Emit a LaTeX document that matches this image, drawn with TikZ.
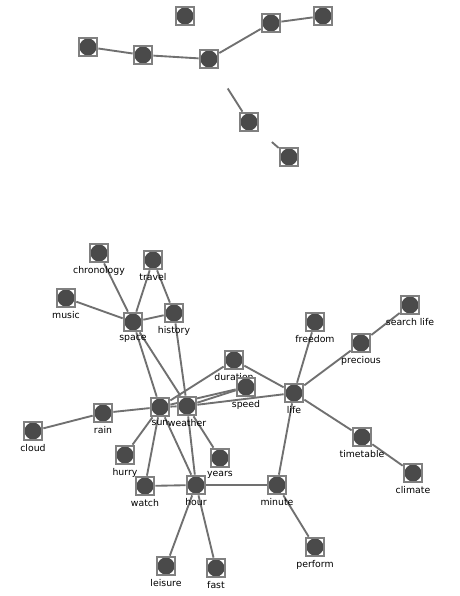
\documentclass[tikz,border=0pt]{standalone}
\usepackage{fontspec}
\setmainfont{DejaVu Sans}
\usetikzlibrary{backgrounds}
\definecolor{boxgray}{RGB}{128,128,128}
\definecolor{dotgray}{RGB}{74,74,74}
\definecolor{edgegray}{RGB}{112,112,112}
\tikzset{
  wnode/.style={rectangle, draw=boxgray, line width=1.5pt, fill=white,
    minimum size=14pt, inner sep=0pt,
    path picture={\fill[dotgray] (path picture bounding box.center) circle (6.4pt);}},
  wlabel/.style={font=\fontsize{7}{8}\selectfont, inner sep=0.5pt, text=black},
  wedge/.style={draw=edgegray, line width=1.4pt},
  every label/.style={wlabel},
  label distance=1.6pt
}
\begin{document}
\begin{tikzpicture}[x=0.75pt, y=-0.75pt]
\begin{scope}[on background layer]
\fill[white] (0,0) rectangle (460,596);
\end{scope}
% Upper cluster (no labels)
\foreach \nm/\x/\y in {a1/185/16, a2/271/23, a3/323/16, a4/88/47,
                      a5/143/55, a6/209/59, a7/249/122, a8/289/157} {
  \node[wnode] (\nm) at (\x,\y) {};
}
% Lower cluster
\foreach \nm/\x/\y/\lbl in {
  chron/99/253/chronology, travel/153/260/travel, music/66/298/music,
  space/133/322/space, hist/174/313/history, free/315/322/freedom,
  search/410/305/{search life}, prec/361/343/precious,
  dur/234/360/duration, speed/246/387/speed, life/294/393/life,
  sun/160/407/sun, weath/187/406/weather, rain/103/413/rain,
  cloud/33/431/cloud, time/362/437/timetable, climate/413/473/climate,
  hurry/125/455/hurry, years/220/458/years, watch/145/486/watch,
  hour/196/485/hour, minute/277/485/minute, perform/315/547/perform,
  leisure/166/566/leisure, fast/216/568/fast} {
  \node[wnode, label=below:\lbl] (\nm) at (\x,\y) {};
}
% Links
\begin{scope}[on background layer]
\foreach \a/\b in {a4/a5, a5/a6, a6/a2, a2/a3} {
  \draw[wedge] (\a) -- (\b);
}
\draw[wedge, shorten <=17pt] (a6) -- (a7);
\draw[wedge, shorten <=12.5pt] (a7) -- (a8);
\foreach \a/\b in {
  chron/space, travel/space, travel/hist, music/space, space/hist,
  space/sun, space/weath, hist/weath, sun/weath, sun/rain, rain/cloud,
  sun/dur, sun/speed, weath/speed, weath/life, dur/life,
  sun/hurry, sun/watch, sun/hour, weath/hour, weath/years,
  watch/hour, hour/minute, minute/life, hour/leisure, hour/fast,
  minute/perform, life/free, life/prec, prec/search, life/time,
  time/climate} {
  \draw[wedge] (\a) -- (\b);
}
\end{scope}
\end{tikzpicture}
\end{document}
